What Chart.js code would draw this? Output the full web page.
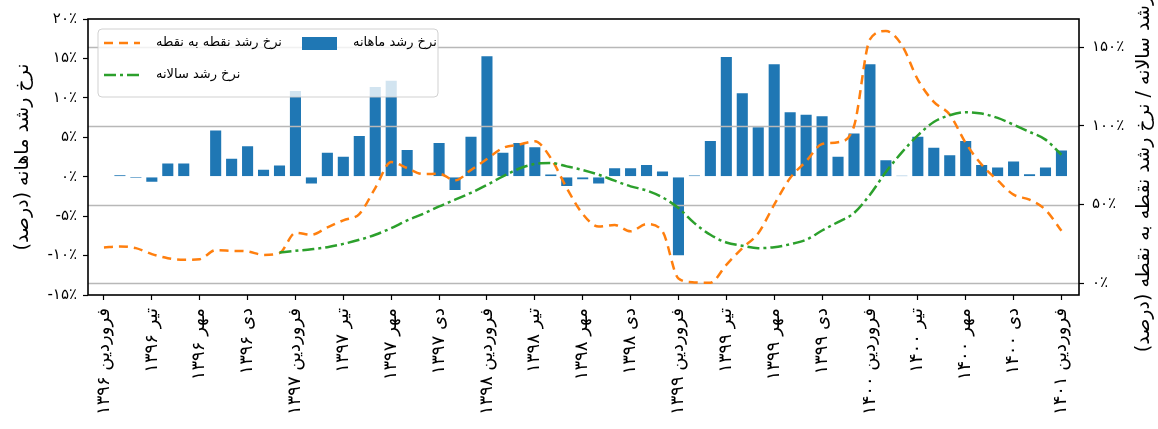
<!DOCTYPE html>
<html>
<head>
<meta charset="utf-8">
<script src="https://cdn.jsdelivr.net/npm/chart.js@4/dist/chart.umd.min.js"></script>
<style>
    html, body { margin: 0; padding: 0; background: #fff; }
    #wrap { width: 1158px; height: 429px; }
</style>
</head>
<body>
<div id="wrap"><canvas id="growthChart" width="1158" height="429"></canvas></div>
<script>
// growth chart: monthly bars (left axis), point-to-point and annual lines (right axis)

const FONT = '"DejaVu Sans", sans-serif';

// x = month index, 0 = Farvardin 1396 ... 60 = Farvardin 1401
const xTickMonths = [0, 3, 6, 9, 12, 15, 18, 21, 24, 27, 30, 33, 36, 39, 42, 45, 48, 51, 54, 57, 60];
const xTickLabels = [
    'فروردین ۱۳۹۶', 'تیر ۱۳۹۶', 'مهر ۱۳۹۶', 'دی ۱۳۹۶',
    'فروردین ۱۳۹۷', 'تیر ۱۳۹۷', 'مهر ۱۳۹۷', 'دی ۱۳۹۷',
    'فروردین ۱۳۹۸', 'تیر ۱۳۹۸', 'مهر ۱۳۹۸', 'دی ۱۳۹۸',
    'فروردین ۱۳۹۹', 'تیر ۱۳۹۹', 'مهر ۱۳۹۹', 'دی ۱۳۹۹',
    'فروردین ۱۴۰۰', 'تیر ۱۴۰۰', 'مهر ۱۴۰۰', 'دی ۱۴۰۰',
    'فروردین ۱۴۰۱'
];

const yLeftTicks = [-15, -10, -5, 0, 5, 10, 15, 20];
const yLeftTickLabels = ['-۱۵٪', '-۱۰٪', '-۵٪', '۰٪', '۵٪', '۱۰٪', '۱۵٪', '۲۰٪'];
const yRightTicks = [0, 50, 100, 150];
const yRightTickLabels = ['۰٪', '۵۰٪', '۱۰۰٪', '۱۵۰٪'];

// monthly growth rate (%)
const monthlyGrowth = [
    null, 0.3, -0.25, -0.75, 1.8, 1.8, 0.05, 6.0, 2.4, 4.0, 1.0, 1.55,
    11.0, -1.0, 3.15, 2.65, 5.3, 11.5, 12.3, 3.5, -0.1, 4.4, -1.8, 5.2,
    15.4, 3.15, 4.4, 3.85, 0.4, -1.3, -0.45, -1.0, 1.2, 1.2, 1.6, 0.8,
    -10.1, 0.25, 4.65, 15.3, 10.7, 6.4, 14.4, 8.3, 8.0, 7.8, 2.65, 5.6,
    14.4, 2.2, 0.2, 5.2, 3.8, 2.85, 4.65, 1.6, 1.3, 2.05, 0.45, 1.3,
    3.45
];

// point-to-point growth rate (%)
const pointGrowth = [
    22.7, 23.4, 22.3, 18.5, 15.9, 14.9, 15.3, 21.0, 20.6, 20.2, 18.0, 19.1,
    32.0, 30.8, 35.5, 40.0, 44.0, 60.5, 77.0, 73.2, 69.4, 69.6, 65.4, 72.0,
    79.0, 86.0, 88.1, 90.2, 79.6, 60.5, 44.0, 36.0, 37.0, 33.0, 37.6, 33.0,
    3.0, 0.5, 0.3, 11.7, 22.3, 31.8, 49.9, 66.9, 77.5, 88.5, 89.6, 99.8,
    155.0, 160.3, 151.4, 129.5, 115.3, 107.2, 89.2, 75.4, 65.4, 56.3, 53.1, 46.7,
    33.3
];

// annual growth rate (%)
const annualGrowth = [
    null, null, null, null, null, null, null, null, null, null, null, 19.5,
    20.6, 21.6, 22.9, 25.0, 27.6, 30.8, 35.0, 39.9, 44.1, 48.8, 53.1, 57.5,
    62.5, 67.9, 72.8, 75.8, 76.4, 74.3, 72.0, 69.0, 65.2, 61.6, 59.0, 54.6,
    47.8, 38.2, 30.8, 25.9, 23.8, 22.3, 22.9, 24.8, 27.6, 33.5, 38.9, 44.6,
    56.3, 70.7, 83.2, 94.0, 102.5, 106.8, 108.7, 107.9, 105.1, 100.8, 96.2, 91.3,
    81.7
];

const leftTitle = 'نرخ رشد ماهانه (درصد)';
const rightTitle = 'نرخ رشد سالانه / نرخ رشد نقطه به نقطه (درصد)';

const pointDash = [9, 6];
const annualDash = [12, 4, 3, 4];

const toPoints = arr => arr.map((v, i) => ({ x: i, y: v }));

// draws the right-axis grid over the bars, the legend box and the frame
const overlayPlugin = {
    id: 'overlay',
    afterDatasetDraw(chart, args) {
        if (args.meta.type !== 'bar') return;
        const { ctx, chartArea: a } = chart;
        const yRight = chart.scales.yRight;
        ctx.save();
        ctx.strokeStyle = '#b8b8b8';
        ctx.lineWidth = 1.6;
        yRightTicks.forEach(v => {
            const y = Math.round(yRight.getPixelForValue(v)) + 0.5;
            ctx.beginPath();
            ctx.moveTo(a.left, y);
            ctx.lineTo(a.right, y);
            ctx.stroke();
        });
        ctx.restore();
    },
    afterDatasetsDraw(chart) {
        const { ctx, chartArea: a } = chart;
        const ds = chart.data.datasets;
        const bx = a.left + 10, by = a.top + 10, bw = 340, bh = 68;
        ctx.save();
        ctx.beginPath();
        if (ctx.roundRect) ctx.roundRect(bx, by, bw, bh, 4); else ctx.rect(bx, by, bw, bh);
        ctx.fillStyle = 'rgba(255,255,255,0.8)';
        ctx.fill();
        ctx.strokeStyle = 'rgba(204,204,204,0.9)';
        ctx.lineWidth = 1;
        ctx.stroke();

        ctx.font = '13px ' + FONT;
        ctx.fillStyle = '#000';
        ctx.textBaseline = 'middle';
        ctx.textAlign = 'left';

        // line entries in the first column
        [[ds[0], pointDash, by + 14], [ds[1], annualDash, by + 46]].forEach(([d, dash, y]) => {
            ctx.beginPath();
            ctx.setLineDash(dash);
            ctx.strokeStyle = d.borderColor;
            ctx.lineWidth = d.borderWidth;
            ctx.moveTo(bx + 6, y);
            ctx.lineTo(bx + 42, y);
            ctx.stroke();
            ctx.setLineDash([]);
            ctx.fillText(d.label, bx + 58, y);
        });

        // bar entry in the second column
        ctx.fillStyle = ds[2].backgroundColor;
        ctx.fillRect(bx + 204, by + 8, 35, 13);
        ctx.fillStyle = '#000';
        ctx.fillText(ds[2].label, bx + 255, by + 14);
        ctx.restore();
    },
    afterDraw(chart) {
        const { ctx, chartArea: a } = chart;
        ctx.save();
        ctx.strokeStyle = '#000';
        ctx.lineWidth = 1.6;
        ctx.strokeRect(a.left, a.top, a.right - a.left, a.bottom - a.top);

        // right axis title reads bottom to top, like the left one
        ctx.translate(1144, (a.top + a.bottom) / 2);
        ctx.rotate(-Math.PI / 2);
        ctx.direction = 'rtl';
        ctx.textAlign = 'center';
        ctx.textBaseline = 'middle';
        ctx.font = '19px ' + FONT;
        ctx.fillStyle = '#000';
        ctx.fillText(rightTitle, 0, 0);
        ctx.restore();
    }
};

const ctx = document.getElementById('growthChart').getContext('2d');
const growthChart = new Chart(ctx, {
    type: 'bar',
    data: {
        datasets: [
            {
                type: 'line',
                label: 'نرخ رشد نقطه به نقطه',
                data: toPoints(pointGrowth),
                yAxisID: 'yRight',
                borderColor: '#ff7f0e',
                borderWidth: 2.5,
                borderDash: pointDash,
                segment: { borderDash: () => pointDash },
                pointRadius: 0,
                cubicInterpolationMode: 'monotone',
                order: 1
            },
            {
                type: 'line',
                label: 'نرخ رشد سالانه',
                data: toPoints(annualGrowth),
                yAxisID: 'yRight',
                borderColor: '#2ca02c',
                borderWidth: 2.5,
                borderDash: annualDash,
                pointRadius: 0,
                cubicInterpolationMode: 'monotone',
                order: 0
            },
            {
                type: 'bar',
                label: 'نرخ رشد ماهانه',
                data: toPoints(monthlyGrowth),
                yAxisID: 'yLeft',
                backgroundColor: '#1f77b4',
                borderColor: 'rgba(255,255,255,0.5)',
                borderWidth: 1,
                barPercentage: 0.82,
                categoryPercentage: 1,
                order: 2
            }
        ]
    },
    options: {
        responsive: false,
        animation: false,
        devicePixelRatio: 1,
        layout: { padding: { top: 19, left: 0, right: 0, bottom: 0 } },
        plugins: {
            legend: { display: false },
            tooltip: { enabled: false }
        },
        scales: {
            x: {
                type: 'linear',
                min: -1,
                max: 61.1,
                offset: false,
                afterFit: s => { s.height = 134; },
                afterBuildTicks: s => { s.ticks = xTickMonths.map(v => ({ value: v })); },
                ticks: {
                    autoSkip: false,
                    minRotation: 90,
                    maxRotation: 90,
                    padding: 8,
                    color: '#000',
                    font: { family: FONT, size: 18 },
                    callback: v => xTickLabels[xTickMonths.indexOf(v)]
                },
                grid: { drawOnChartArea: false, offset: false, tickLength: 5, tickColor: '#000', tickWidth: 1.2 },
                border: { display: false }
            },
            yLeft: {
                position: 'left',
                min: -15,
                max: 20,
                afterFit: s => { s.width = 88; },
                afterBuildTicks: s => { s.ticks = yLeftTicks.map(v => ({ value: v })); },
                ticks: {
                    padding: 6,
                    color: '#000',
                    font: { family: FONT, size: 15 },
                    callback: v => yLeftTickLabels[yLeftTicks.indexOf(v)]
                },
                grid: { drawOnChartArea: false, tickLength: 5, tickColor: '#000', tickWidth: 1.2 },
                border: { display: false },
                title: {
                    display: true,
                    text: '\u200F' + leftTitle + '\u200F',
                    color: '#000',
                    font: { family: FONT, size: 19 },
                    padding: { top: 12, bottom: 0 }
                }
            },
            yRight: {
                position: 'right',
                min: -7.5,
                max: 168,
                afterFit: s => { s.width = 79; },
                afterBuildTicks: s => { s.ticks = yRightTicks.map(v => ({ value: v })); },
                ticks: {
                    padding: 8,
                    color: '#000',
                    font: { family: FONT, size: 15 },
                    callback: v => yRightTickLabels[yRightTicks.indexOf(v)]
                },
                grid: { drawOnChartArea: false, tickLength: 5, tickColor: '#000', tickWidth: 1.2 },
                border: { display: false }
            }
        }
    },
    plugins: [overlayPlugin]
});
</script>
</body>
</html>
